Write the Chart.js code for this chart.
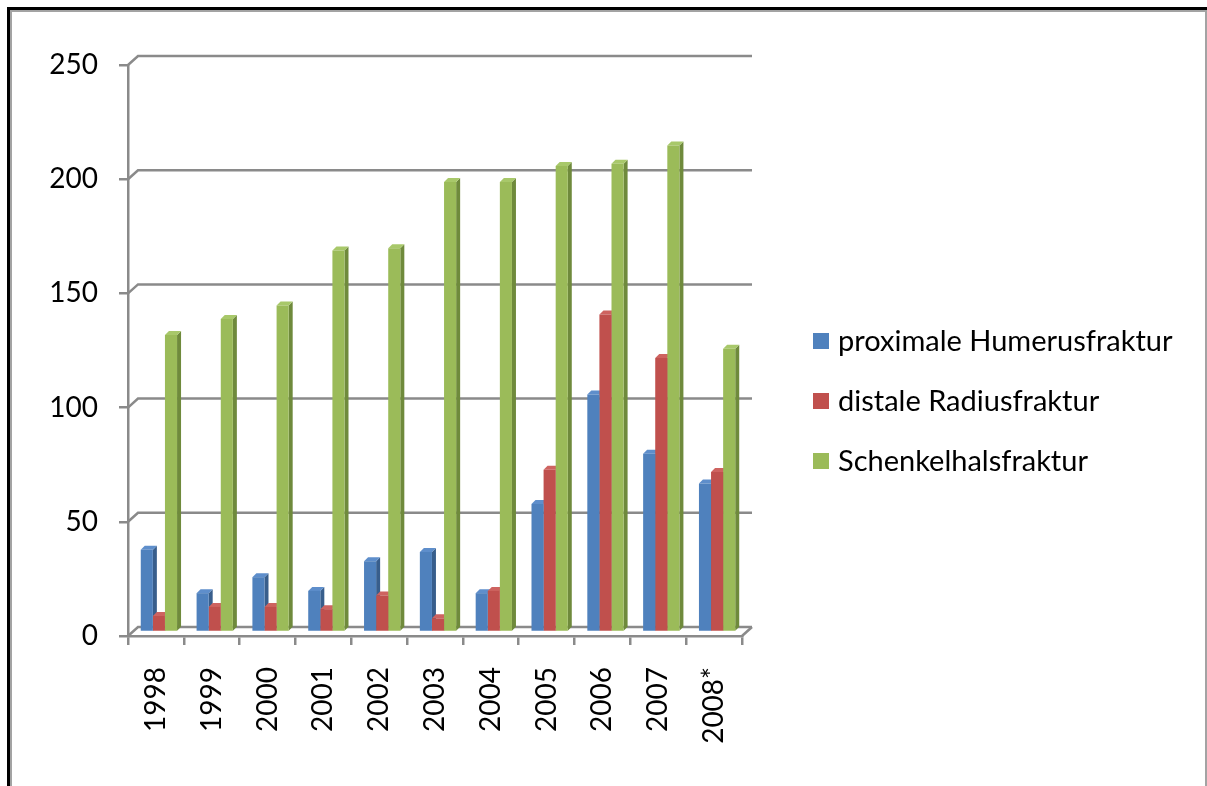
<!DOCTYPE html>
<html>
<head>
<meta charset="utf-8">
<title>Frakturen 1998–2008</title>
<script src="https://cdn.jsdelivr.net/npm/chart.js@4/dist/chart.umd.min.js"></script>
<style>
  html, body { margin: 0; padding: 0; background: #fff; overflow: hidden; }
  #frame {
    position: absolute; left: 7px; top: 7px; width: 1200px; height: 900px;
    box-sizing: border-box; border-top: 3px solid #000; border-left: 3px solid #000;
  }
  #inner {
    position: absolute; left: 0; top: 0; right: 0; bottom: 0;
    box-sizing: border-box; border: 2px solid #a3a3a3;
  }
  #chart { position: absolute; left: 0; top: 0; }
</style>
</head>
<body>
<div id="frame"><div id="inner"></div></div>
<canvas id="chart" width="1207" height="786"></canvas>
<script>
// Jahre (x-Achse)
const categories = ['1998', '1999', '2000', '2001', '2002', '2003', '2004', '2005', '2006', '2007', '2008*'];

// Fallzahlen je Frakturart
const humerus      = [36, 17, 24, 18, 31, 35, 17, 56, 104, 78, 65];
const radius       = [7, 11, 11, 10, 16, 6, 18, 71, 139, 120, 70];
const schenkelhals = [130, 137, 143, 167, 168, 197, 197, 204, 205, 213, 124];

const seriesNames = ['proximale Humerusfraktur', 'distale Radiusfraktur', 'Schenkelhalsfraktur'];

// y-Achse
const yMin = 0;
const yMax = 250;
const yStep = 50;

const frontColors = ['#4F81BD', '#C0504D', '#9BBB59'];
const sideColors  = ['#385E8C', '#8E3A38', '#6F8A3C'];
const topColors   = ['#5E8ECB', '#CE6360', '#A8C86A'];

const FONT = 'Lato';
const AXIS_GREY = '#8a8a8a';

// Tiefe der Säulen und der Rückwand (Pseudo-3D)
const DEPTH_X = 4, DEPTH_Y = 4;
const WALL_X = 10, WALL_Y = 9;
const BAR_SHIFT_X = 3, BAR_SHIFT_Y = -4;

const depthPlugin = {
  id: 'depth',
  beforeDatasetsDraw(chart) {
    const ctx = chart.ctx;
    const { left, right, bottom } = chart.chartArea;
    const ys = chart.scales.y;

    // Rückwand-Gitterlinien mit schrägem Anschluss an die Achse
    ctx.save();
    ctx.strokeStyle = AXIS_GREY;
    ctx.lineWidth = 2.5;
    ys.ticks.forEach(t => {
      const py = ys.getPixelForValue(t.value);
      ctx.beginPath();
      ctx.moveTo(left, py);
      ctx.lineTo(left + WALL_X, py - WALL_Y);
      ctx.lineTo(right + WALL_X, py - WALL_Y);
      ctx.stroke();
    });
    // rechte Bodenkante
    ctx.beginPath();
    ctx.moveTo(right, bottom);
    ctx.lineTo(right + WALL_X, bottom - WALL_Y);
    ctx.stroke();
    ctx.restore();

    // Seiten- und Deckflächen der Säulen
    ctx.save();
    ctx.translate(BAR_SHIFT_X, BAR_SHIFT_Y);
    const nCat = chart.data.labels.length;
    const nDs = chart.data.datasets.length;
    for (let i = 0; i < nCat; i++) {
      for (let d = 0; d < nDs; d++) {
        const el = chart.getDatasetMeta(d).data[i];
        if (!el) continue;
        const p = el.getProps(['x', 'y', 'base', 'width'], true);
        const x0 = p.x - p.width / 2, x1 = p.x + p.width / 2;
        ctx.fillStyle = sideColors[d];
        ctx.beginPath();
        ctx.moveTo(x1, p.y);
        ctx.lineTo(x1 + DEPTH_X, p.y - DEPTH_Y);
        ctx.lineTo(x1 + DEPTH_X, p.base - DEPTH_Y);
        ctx.lineTo(x1, p.base);
        ctx.closePath();
        ctx.fill();
        ctx.fillStyle = topColors[d];
        ctx.beginPath();
        ctx.moveTo(x0, p.y);
        ctx.lineTo(x0 + DEPTH_X, p.y - DEPTH_Y);
        ctx.lineTo(x1 + DEPTH_X, p.y - DEPTH_Y);
        ctx.lineTo(x1, p.y);
        ctx.closePath();
        ctx.fill();
      }
    }
    ctx.restore();

    // Vorderflächen werden von Chart.js versetzt gezeichnet
    ctx.save();
    ctx.translate(BAR_SHIFT_X, BAR_SHIFT_Y);
  },
  afterDatasetsDraw(chart) {
    chart.ctx.restore();
  }
};

// Legende rechts neben dem Diagramm
const legendPlugin = {
  id: 'sideLegend',
  afterDraw(chart) {
    const ctx = chart.ctx;
    ctx.save();
    ctx.font = '29px ' + FONT;
    ctx.textBaseline = 'middle';
    chart.data.datasets.forEach((ds, i) => {
      const cy = 341 + i * 60;
      ctx.fillStyle = ds.backgroundColor;
      ctx.fillRect(813, cy - 8, 16, 16);
      ctx.fillStyle = '#000';
      ctx.fillText(ds.label, 838, cy + 1);
    });
    ctx.restore();
  }
};

function draw() {
  new Chart(document.getElementById('chart'), {
    type: 'bar',
    data: {
      labels: categories,
      datasets: [
        { label: seriesNames[0], data: humerus,      backgroundColor: frontColors[0] },
        { label: seriesNames[1], data: radius,       backgroundColor: frontColors[1] },
        { label: seriesNames[2], data: schenkelhals, backgroundColor: frontColors[2] }
      ]
    },
    options: {
      responsive: false,
      animation: false,
      devicePixelRatio: 1,
      layout: { padding: { left: 0, top: 65, right: 465, bottom: 0 } },
      datasets: { bar: { categoryPercentage: 0.65, barPercentage: 1, borderWidth: 0 } },
      plugins: { legend: { display: false }, tooltip: { enabled: false } },
      scales: {
        x: {
          offset: true,
          grid: { display: true, offset: true, drawOnChartArea: false, drawTicks: true,
                  tickLength: 9, color: AXIS_GREY, lineWidth: 2.5 },
          border: { display: true, color: AXIS_GREY, width: 2.5 },
          ticks: { autoSkip: false, minRotation: 90, maxRotation: 90, padding: 22,
                   color: '#000', font: { family: FONT, size: 28 } },
          afterFit(s) { s.height = 150; }
        },
        y: {
          min: yMin, max: yMax,
          grid: { drawOnChartArea: false, drawTicks: true, tickLength: 9,
                  color: AXIS_GREY, lineWidth: 2.5 },
          border: { display: true, color: AXIS_GREY, width: 2.5 },
          ticks: { stepSize: yStep, padding: 21, color: '#000', font: { family: FONT, size: 28 } },
          afterFit(s) { s.width = 128; }
        }
      }
    },
    plugins: [depthPlugin, legendPlugin]
  });
}

if (document.fonts && document.fonts.load) {
  document.fonts.load('28px ' + FONT).then(draw, draw);
} else {
  draw();
}
</script>
</body>
</html>
